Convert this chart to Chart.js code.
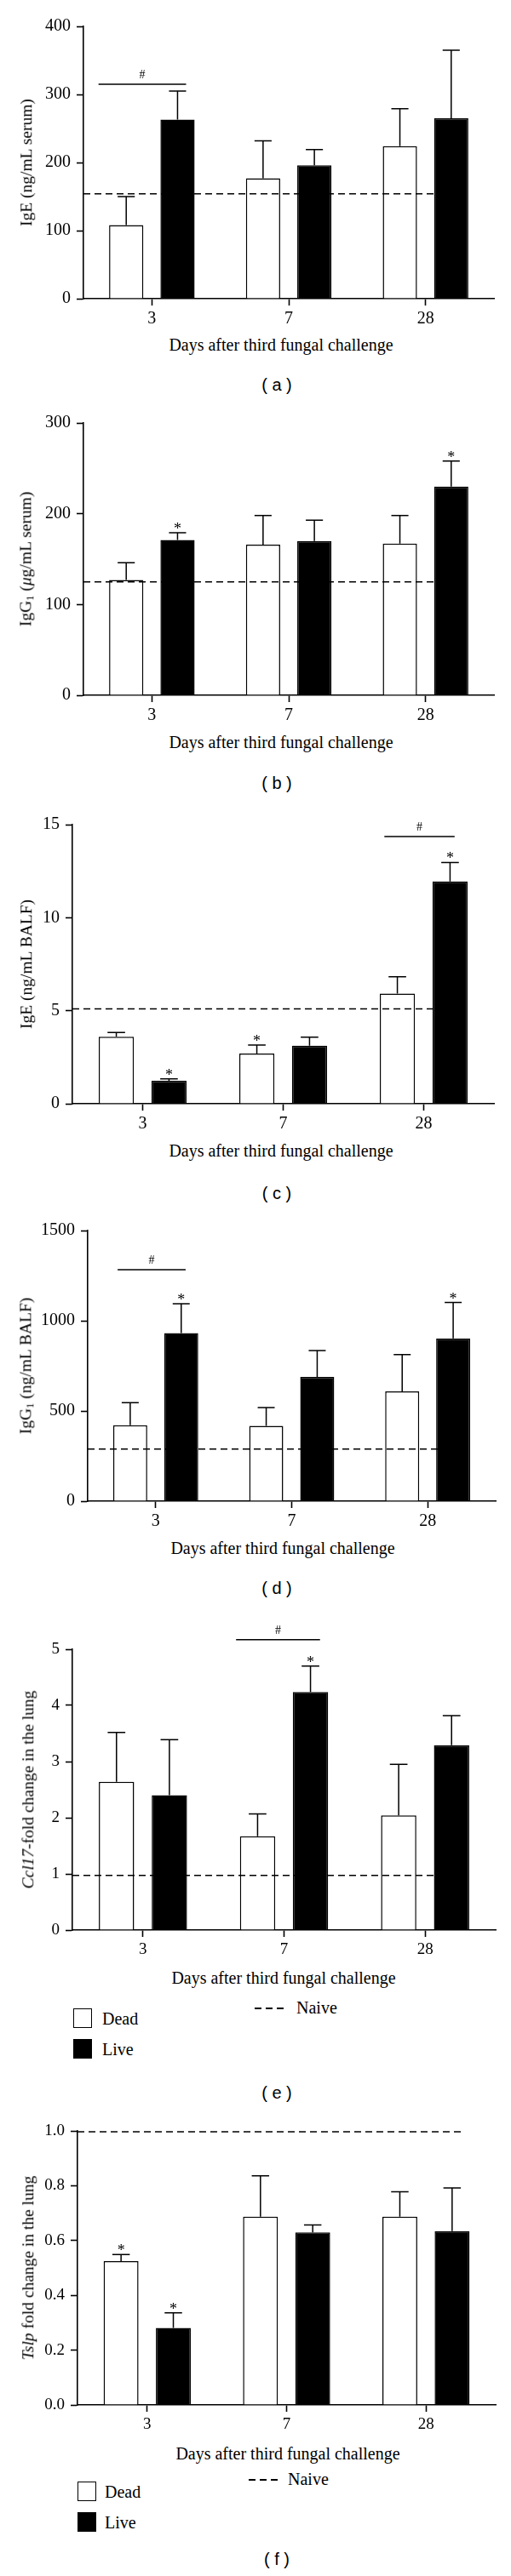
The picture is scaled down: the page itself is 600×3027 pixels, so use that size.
<!DOCTYPE html>
<html>
<head>
<meta charset="utf-8">
<script src="https://cdn.jsdelivr.net/npm/chart.js@4.4.0/dist/chart.umd.min.js"></script>
<style>
body { margin: 0; background: #fff; }
#page { position: relative; width: 600px; height: 3027px; background: #fff; overflow: hidden;
        font-family: "Liberation Serif", serif; color: #000; }
canvas { position: absolute; left: 0; }
.ytitle, .xtitle, .plabel, .legtxt { position: absolute; white-space: nowrap; line-height: 1; }
.ytitle { transform: translate(-50%, -50%) rotate(-90deg); font-size: 19.5px; }
.xtitle { transform: translate(-50%, -50%); font-size: 20px; }
.plabel { transform: translate(-50%, -50%); font-family: "Liberation Sans", sans-serif; font-size: 20px; }
.legtxt { transform: translateY(-50%); font-size: 20px; }
.box { position: absolute; width: 20px; height: 21px; border: 1.5px solid #000; }
.dash { position: absolute; width: 34px; height: 1.5px;
        background: repeating-linear-gradient(to right, #000 0 8px, transparent 8px 13px); }
sub { font-size: 65%; vertical-align: -0.2em; }
</style>
</head>
<body>
<div id="page"></div>
<script>
// Days after the third fungal challenge
const days = ['3', '7', '28'];

// (a) IgE, ng/mL serum
const igeSerumDead = [108, 177, 224];
const igeSerumDeadErr = [42, 55, 55];
const igeSerumLive = [263, 196, 265];
const igeSerumLiveErr = [42, 23, 100];
const igeSerumNaive = 154;
const igeSerumTicks = [0, 100, 200, 300, 400];

// (b) IgG1, ug/mL serum
const igg1SerumDead = [127, 166, 167];
const igg1SerumDeadErr = [19, 32, 31];
const igg1SerumLive = [171, 170, 230];
const igg1SerumLiveErr = [8, 23, 28];
const igg1SerumNaive = 125;
const igg1SerumTicks = [0, 100, 200, 300];

// (c) IgE, ng/mL BALF
const igeBalfDead = [3.6, 2.7, 5.92];
const igeBalfDeadErr = [0.23, 0.46, 0.91];
const igeBalfLive = [1.23, 3.12, 11.95];
const igeBalfLiveErr = [0.11, 0.46, 1.02];
const igeBalfNaive = 5.1;
const igeBalfTicks = [0, 5, 10, 15];

// (d) IgG1, ng/mL BALF
const igg1BalfDead = [421, 418, 608];
const igg1BalfDeadErr = [125, 101, 205];
const igg1BalfLive = [932, 689, 902];
const igg1BalfLiveErr = [162, 146, 199];
const igg1BalfNaive = 289;
const igg1BalfTicks = [0, 500, 1000, 1500];

// (e) Ccl17 fold change
const ccl17Dead = [2.64, 1.67, 2.04];
const ccl17DeadErr = [0.88, 0.40, 0.91];
const ccl17Live = [2.40, 4.24, 3.29];
const ccl17LiveErr = [0.99, 0.46, 0.53];
const ccl17Naive = 0.975;
const ccl17Ticks = [0, 1, 2, 3, 4, 5];

// (f) Tslp fold change
const tslpDead = [0.525, 0.687, 0.687];
const tslpDeadErr = [0.024, 0.149, 0.091];
const tslpLive = [0.281, 0.630, 0.634];
const tslpLiveErr = [0.055, 0.027, 0.158];
const tslpNaive = 0.997;
const tslpTicks = [0, 0.2, 0.4, 0.6, 0.8, 1.0];

// stars: [dataset (0 dead, 1 live), day index]; bracket: # between the two groups
const panels = [
  { tag: 'a', dead: igeSerumDead, deadErr: igeSerumDeadErr, live: igeSerumLive, liveErr: igeSerumLiveErr,
    naive: igeSerumNaive, ticks: igeSerumTicks, dec: 0, stars: [],
    bracket: { day: 0, value: 315, from: -0.39, to: 0.25 },
    area: { top: 31, bottom: 351, left: 98, right: 580 }, cTop: 0,
    ytitle: 'IgE (ng/mL serum)', yx: 31, xtY: 405, xtX: 330, labY: 452, font: 20 },
  { tag: 'b', dead: igg1SerumDead, deadErr: igg1SerumDeadErr, live: igg1SerumLive, liveErr: igg1SerumLiveErr,
    naive: igg1SerumNaive, ticks: igg1SerumTicks, dec: 0, stars: [[1, 0], [1, 2]], bracket: null,
    area: { top: 497, bottom: 817, left: 98, right: 580 }, cTop: 457,
    ytitle: 'IgG<sub>1</sub> (<i>μ</i>g/mL serum)', yx: 31, xtY: 872, xtX: 330, labY: 920, font: 20 },
  { tag: 'c', dead: igeBalfDead, deadErr: igeBalfDeadErr, live: igeBalfLive, liveErr: igeBalfLiveErr,
    naive: igeBalfNaive, ticks: igeBalfTicks, dec: 0, stars: [[1, 0], [0, 1], [1, 2]],
    bracket: { day: 2, value: 14.36, from: -0.28, to: 0.22 },
    area: { top: 969, bottom: 1297, left: 85, right: 580 }, cTop: 929,
    ytitle: 'IgE (ng/mL BALF)', yx: 31, xtY: 1352, xtX: 330, labY: 1402, font: 20 },
  { tag: 'd', dead: igg1BalfDead, deadErr: igg1BalfDeadErr, live: igg1BalfLive, liveErr: igg1BalfLiveErr,
    naive: igg1BalfNaive, ticks: igg1BalfTicks, dec: 0, stars: [[1, 0], [1, 2]],
    bracket: { day: 0, value: 1283, from: -0.28, to: 0.22 },
    area: { top: 1446, bottom: 1764, left: 103, right: 582 }, cTop: 1406,
    ytitle: 'IgG<sub>1</sub> (ng/mL BALF)', yx: 31, xtY: 1819, xtX: 332, labY: 1866, font: 20 },
  { tag: 'e', dead: ccl17Dead, deadErr: ccl17DeadErr, live: ccl17Live, liveErr: ccl17LiveErr,
    naive: ccl17Naive, ticks: ccl17Ticks, dec: 0, stars: [[1, 1]],
    bracket: { day: 1, value: 5.17, from: -0.34, to: 0.255 },
    area: { top: 1938, bottom: 2268, left: 85, right: 582 }, cTop: 1898,
    ytitle: '<i>Ccl17</i>-fold change in the lung', yx: 33, xtY: 2324, xtX: 333, labY: 2459, font: 19,
    legend: { box: 86, boxTop: 2360, text: 120, dash: 299, naiveText: 348, naiveY: 2359 } },
  { tag: 'f', dead: tslpDead, deadErr: tslpDeadErr, live: tslpLive, liveErr: tslpLiveErr,
    naive: tslpNaive, ticks: tslpTicks, dec: 1, stars: [[0, 0], [1, 0]], bracket: null,
    area: { top: 2504, bottom: 2826, left: 91, right: 582 }, cTop: 2464,
    ytitle: '<i>Tslp</i> fold change in the lung', yx: 33, xtY: 2883, xtX: 338, labY: 3007, font: 19,
    legend: { box: 91, boxTop: 2916, text: 123, dash: 292, naiveText: 338, naiveY: 2913 } }
];

// error bars, naive line, stars and # brackets
const overlay = {
  id: 'overlay',
  afterDatasetsDraw(chart, args, opts) {
    const p = opts.panel;
    const ctx = chart.ctx;
    const x = chart.scales.x, y = chart.scales.y;
    const catW = x.width / days.length;
    ctx.save();
    ctx.strokeStyle = '#000';
    ctx.fillStyle = '#000';
    ctx.lineWidth = 1.5;
    const tops = [[], []];
    [[p.dead, p.deadErr], [p.live, p.liveErr]].forEach(([vals, errs], di) => {
      chart.getDatasetMeta(di).data.forEach((bar, i) => {
        const yTop = y.getPixelForValue(vals[i] + errs[i]);
        const cap = bar.width / 4;
        tops[di][i] = { x: bar.x, y: yTop };
        ctx.beginPath();
        ctx.moveTo(bar.x, bar.y);
        ctx.lineTo(bar.x, yTop);
        ctx.moveTo(bar.x - cap, yTop);
        ctx.lineTo(bar.x + cap, yTop);
        ctx.stroke();
      });
    });
    // naive level
    const yN = y.getPixelForValue(p.naive);
    ctx.setLineDash([8, 5]);
    ctx.beginPath();
    ctx.moveTo(chart.chartArea.left, yN);
    ctx.lineTo(x.getPixelForValue(2) + 0.28 * catW, yN);
    ctx.stroke();
    ctx.setLineDash([]);
    ctx.textAlign = 'center';
    ctx.textBaseline = 'alphabetic';
    ctx.font = '18px "Liberation Serif"';
    p.stars.forEach(([di, i]) => {
      const t = tops[di][i];
      ctx.fillText('*', t.x, t.y + 1);
    });
    if (p.bracket) {
      const b = p.bracket;
      const cx = x.getPixelForValue(b.day);
      const yb = y.getPixelForValue(b.value);
      const x0 = cx + b.from * catW, x1 = cx + b.to * catW;
      ctx.beginPath();
      ctx.moveTo(x0, yb);
      ctx.lineTo(x1, yb);
      ctx.stroke();
      ctx.font = '14px "Liberation Serif"';
      ctx.fillText('#', (x0 + x1) / 2, yb - 7);
    }
    ctx.restore();
  }
};

const page = document.getElementById('page');

function addDiv(cls, html, left, top) {
  const d = document.createElement('div');
  d.className = cls;
  d.innerHTML = html;
  d.style.left = left + 'px';
  d.style.top = top + 'px';
  page.appendChild(d);
  return d;
}

panels.forEach(p => {
  const cH = p.area.bottom + 42 - p.cTop;
  const cv = document.createElement('canvas');
  cv.width = 600;
  cv.height = cH;
  cv.style.top = p.cTop + 'px';
  cv.style.width = '600px';
  cv.style.height = cH + 'px';
  page.appendChild(cv);

  const tickFont = { family: 'Liberation Serif', size: p.font };
  const axisGrid = { drawOnChartArea: false, drawTicks: true, tickLength: 8, tickWidth: 1.6, color: '#000' };

  new Chart(cv.getContext('2d'), {
    type: 'bar',
    data: {
      labels: days,
      datasets: [
        { label: 'Dead', data: p.dead, backgroundColor: '#fff', borderColor: '#000', borderWidth: 1.5 },
        { label: 'Live', data: p.live, backgroundColor: '#000', borderColor: '#000', borderWidth: 1.5 }
      ]
    },
    options: {
      responsive: false,
      animation: false,
      devicePixelRatio: 1,
      categoryPercentage: 0.75,
      barPercentage: 0.667,
      layout: { padding: { top: p.area.top - p.cTop, right: 600 - p.area.right, left: 0, bottom: 0 } },
      plugins: { legend: { display: false }, tooltip: { enabled: false }, overlay: { panel: p } },
      scales: {
        x: {
          offset: true,
          grid: Object.assign({ offset: false }, axisGrid),
          border: { display: true, color: '#000', width: 1.6 },
          ticks: { font: tickFont, color: '#000', padding: 4, maxRotation: 0 },
          afterFit: s => { s.height = cH - (p.area.bottom - p.cTop); }
        },
        y: {
          min: p.ticks[0],
          max: p.ticks[p.ticks.length - 1],
          grid: axisGrid,
          border: { display: true, color: '#000', width: 1.6 },
          ticks: {
            font: tickFont, color: '#000', padding: 7,
            stepSize: p.ticks[1] - p.ticks[0],
            callback: v => Number(v).toFixed(p.dec)
          },
          afterFit: s => { s.width = p.area.left; }
        }
      }
    },
    plugins: [overlay]
  });

  addDiv('ytitle', p.ytitle, p.yx, (p.area.top + p.area.bottom) / 2);
  addDiv('xtitle', 'Days after third fungal challenge', p.xtX, p.xtY);
  addDiv('plabel', '( ' + p.tag + ' )', 325, p.labY);

  if (p.legend) {
    const L = p.legend;
    const b1 = addDiv('box', '', L.box, L.boxTop);
    b1.style.background = '#fff';
    const b2 = addDiv('box', '', L.box, L.boxTop + 36);
    b2.style.background = '#000';
    addDiv('legtxt', 'Dead', L.text, L.boxTop + 12);
    addDiv('legtxt', 'Live', L.text, L.boxTop + 48);
    addDiv('dash', '', L.dash, L.naiveY);
    addDiv('legtxt', 'Naive', L.naiveText, L.naiveY);
  }
});
</script>
</body>
</html>
